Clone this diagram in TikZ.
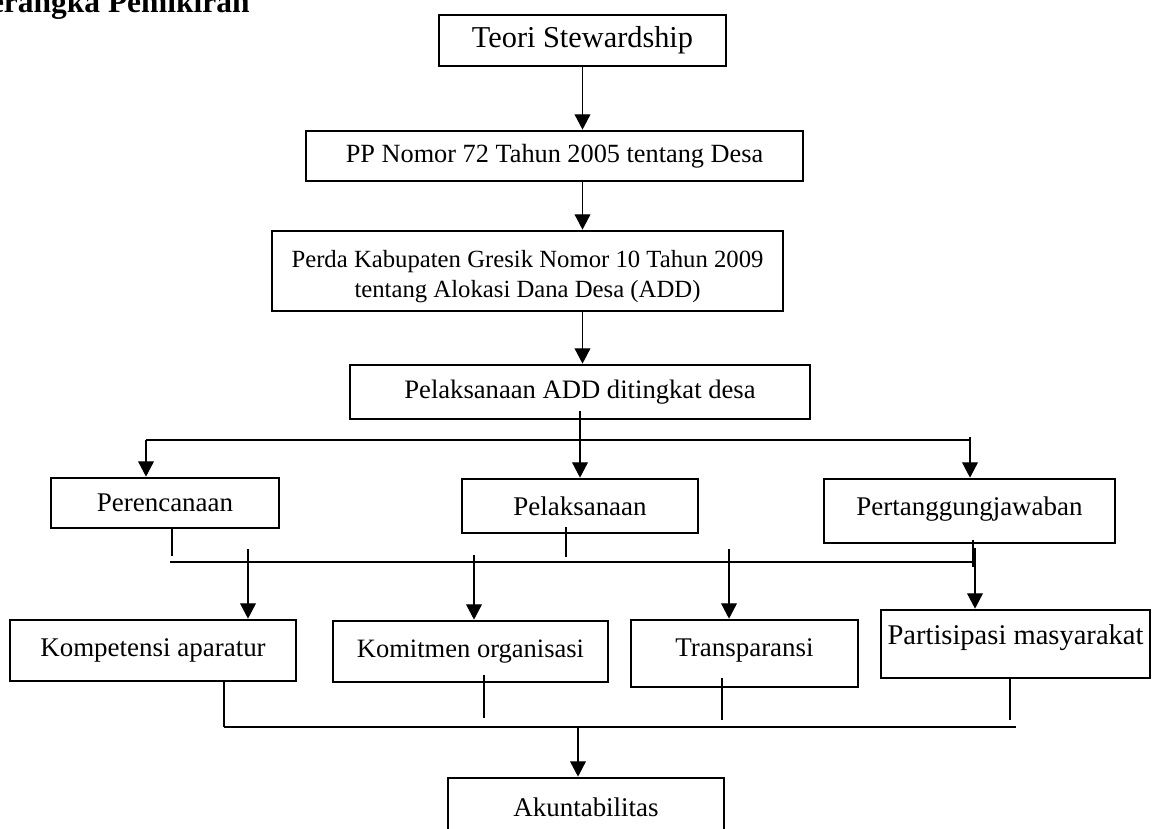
\documentclass[tikz,border=0pt]{standalone}
\usepackage{fontspec}
\setmainfont{Liberation Serif}
\usetikzlibrary{arrows.meta}

\newcommand{\ukfont}[1]{\fontsize{#1}{13.3}\selectfont}

\tikzset{
  kotak/.style={draw, line width=1.2pt, inner sep=0pt, align=center, font=\ukfont{12}},
  ukuran/.style 2 args={minimum width=#1*0.445pt, minimum height=#2*0.445pt},
  garis/.style={line width=0.55pt},
  panah/.style={garis, -{Triangle[width=7pt,length=6.8pt]}},
}

\begin{document}
\begin{tikzpicture}[x=0.445pt, y=-0.445pt]
    \useasboundingbox (0,0) rectangle (1158,829);
    \node[anchor=base east, inner sep=0pt, font=\fontsize{14}{15}\selectfont\bfseries] (judul) at (250,13) {Kerangka Pemikiran};

    % alur utama
    \node[kotak, ukuran={287}{51}, font=\ukfont{13.5}] (teori) at (582.5,40.5) {Teori Stewardship};
    \node[kotak, ukuran={497}{50}, font=\ukfont{11.7}] (pp) at (554.5,156) {PP Nomor 72 Tahun 2005 tentang Desa};
    \node[kotak, ukuran={511}{80}, font=\ukfont{11}, text height=26pt] (perda) at (527.5,271)
        {Perda Kabupaten Gresik Nomor 10 Tahun 2009\\tentang Alokasi Dana Desa (ADD)};
    \node[kotak, ukuran={460}{54}, font=\ukfont{11.85}] (add) at (580,392) {Pelaksanaan ADD ditingkat desa};

    % tahap pengelolaan
    \node[kotak, ukuran={228}{50}] (rencana) at (165,503) {Perencanaan};
    \node[kotak, ukuran={236}{54}] (laksana) at (580,506) {Pelaksanaan};
    \node[kotak, ukuran={291}{64}, text depth=4pt] (tanggung) at (969.5,511) {Pertanggungjawaban};

    % variabel
    \node[kotak, ukuran={286}{61}] (kompetensi) at (153,650.5) {Kompetensi aparatur};
    \node[kotak, ukuran={275}{61}, font=\ukfont{11.8}] (komitmen) at (470.5,651.5) {Komitmen organisasi};
    \node[kotak, ukuran={227}{67}, text depth=5pt] (transparan) at (744.5,653.5) {Transparansi};
    \node[kotak, ukuran={269}{68}, text depth=8pt, font=\ukfont{12.7}] (partisipasi) at (1015.5,644) {Partisipasi masyarakat};
    \node[kotak, ukuran={276}{58}] (akun) at (586,807) {Akuntabilitas};

    \draw[panah] (teori.south) -- (teori.south |- pp.north);
    \draw[panah] (pp.south -| teori.south) -- (perda.north -| teori.south);
    \draw[panah] (perda.south -| teori.south) -- (add.north -| teori.south);
    \draw[panah] ([yshift=4]add.south) -- (laksana.north);

    \coordinate (cabkiri) at (146,440);
    \coordinate (cabkanan) at (970,437);
    \draw[garis] (cabkiri) -- (cabkanan |- cabkiri);
    \draw[panah] (cabkiri) -- (cabkiri |- rencana.north);
    \draw[panah] (cabkanan) -- (cabkanan |- tanggung.north);

    \coordinate (ren1) at (172,528);
    \coordinate (ren2) at (172,556);
    \coordinate (lak1) at (566,527);
    \coordinate (lak2) at (566,557);
    \coordinate (tgj1) at (973,540);
    \coordinate (tgj2) at (973,567);
    \draw[garis] (ren1) -- (ren2);
    \draw[garis] (lak1) -- (lak2);
    \draw[garis] (tgj1) -- (tgj2);
    \draw[garis] (170,562) -- (973,562);

    \draw[panah] (248,549) -- (248,549 |- kompetensi.north);
    \draw[panah] (474,555) -- (474,555 |- komitmen.north);
    \draw[panah] (729,549) -- (729,549 |- transparan.north);
    \draw[panah] (975,548) -- (975,548 |- partisipasi.north);

    \draw[garis] (224,700 |- kompetensi.south) -- (224,727);
    \draw[garis] (484,675) -- (484,718);
    \draw[garis] (722,678) -- (722,720);
    \draw[garis] (1010,677) -- (1010,720);
    \draw[garis] (224,727) -- (1016,727);
    \draw[panah] (578,726) -- (578,726 |- akun.north);
\end{tikzpicture}
\end{document}
